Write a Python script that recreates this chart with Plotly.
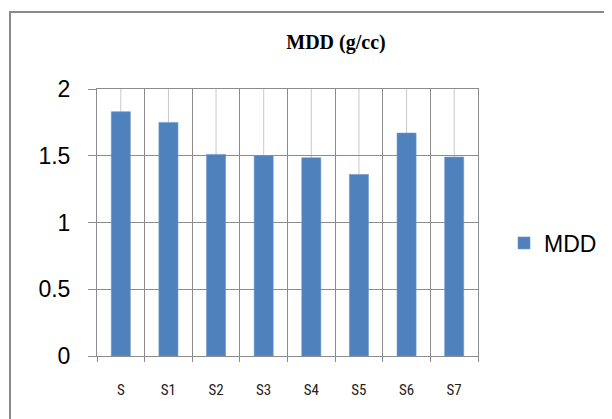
import plotly.graph_objects as go

categories = ["S", "S1", "S2", "S3", "S4", "S5", "S6", "S7"]
mdd_values = [1.83, 1.75, 1.51, 1.50, 1.485, 1.36, 1.67, 1.49]
series_name = "MDD"
title_text = "MDD (g/cc)"
y_ticks = [0, 0.5, 1, 1.5, 2]
y_tick_labels = ["0", "0.5", "1", "1.5", "2"]

# the page body adds an 8px offset; target coordinates are shifted accordingly
OFF = 8
W, H = 612 - OFF, 419 - OFF
L, T = 97 - OFF, 89 - OFF
R, B = 612 - 478, 419 - 356
pw, ph = W - L - R, H - T - B

SANS = "Liberation Sans, Arial, sans-serif"
NARROW = "Liberation Sans Narrow, Arial Narrow, Roboto Condensed, Liberation Sans, Arial, sans-serif"

fig = go.Figure()
fig.add_trace(go.Bar(
    x=categories, y=mdd_values, name=series_name,
    marker=dict(color="#4F81BD", line=dict(color="#6d97c9", width=0.6)),
    width=0.4, showlegend=True,
))

shapes = []
for c in categories:
    shapes.append(dict(type="line", xref="x", yref="y", x0=c, x1=c, y0=0, y1=2,
                       line=dict(color="#c9c9c9", width=1), layer="below"))
fx0 = ((10 - OFF) - L) / pw
fy1 = ((H - B) - (12 - OFF)) / ph
shapes.append(dict(type="rect", xref="paper", yref="paper", x0=fx0, x1=3, y0=-3, y1=fy1,
                   line=dict(color="#8a8a8a", width=2), fillcolor="rgba(0,0,0,0)", layer="below"))

fig.update_layout(
    width=W, height=H,
    margin=dict(l=L, r=R, t=T, b=B, pad=0, autoexpand=False),
    paper_bgcolor="white", plot_bgcolor="white",
    title=dict(text="<b>" + title_text + "</b>", x=(336 - OFF) / W, xref="container", xanchor="center",
               y=1 - (42 - OFF) / H, yref="container", yanchor="middle",
               font=dict(family="Liberation Serif, Times New Roman, serif", size=20, color="black")),
    showlegend=True,
    legend=dict(x=(504 - OFF) / W, y=1 - (243 - OFF) / H, xref="container", yref="container",
                xanchor="left", yanchor="middle",
                font=dict(family=SANS, size=23, color="black"),
                bgcolor="rgba(0,0,0,0)", itemwidth=30),
    shapes=shapes,
    xaxis=dict(
        type="category", range=[-0.5, 7.5], tickson="boundaries",
        showgrid=True, gridcolor="#8c8c8c", gridwidth=1,
        showline=True, linecolor="#8c8c8c", linewidth=1, mirror=True,
        ticks="outside", ticklen=5, tickcolor="#8c8c8c",
        tickfont=dict(family=NARROW, size=15, color="#222222"),
        ticklabelstandoff=20, fixedrange=True,
    ),
    yaxis=dict(
        range=[0, 2], tickvals=y_ticks, ticktext=y_tick_labels,
        showgrid=True, gridcolor="#8c8c8c", gridwidth=1,
        showline=True, linecolor="#8c8c8c", linewidth=1, mirror=True,
        ticks="outside", ticklen=8, tickcolor="#8c8c8c",
        tickfont=dict(family=SANS, size=23, color="black"),
        ticklabelstandoff=13, zeroline=False, fixedrange=True,
    ),
    bargap=0.6,
)

fig.write_html("out.html")
